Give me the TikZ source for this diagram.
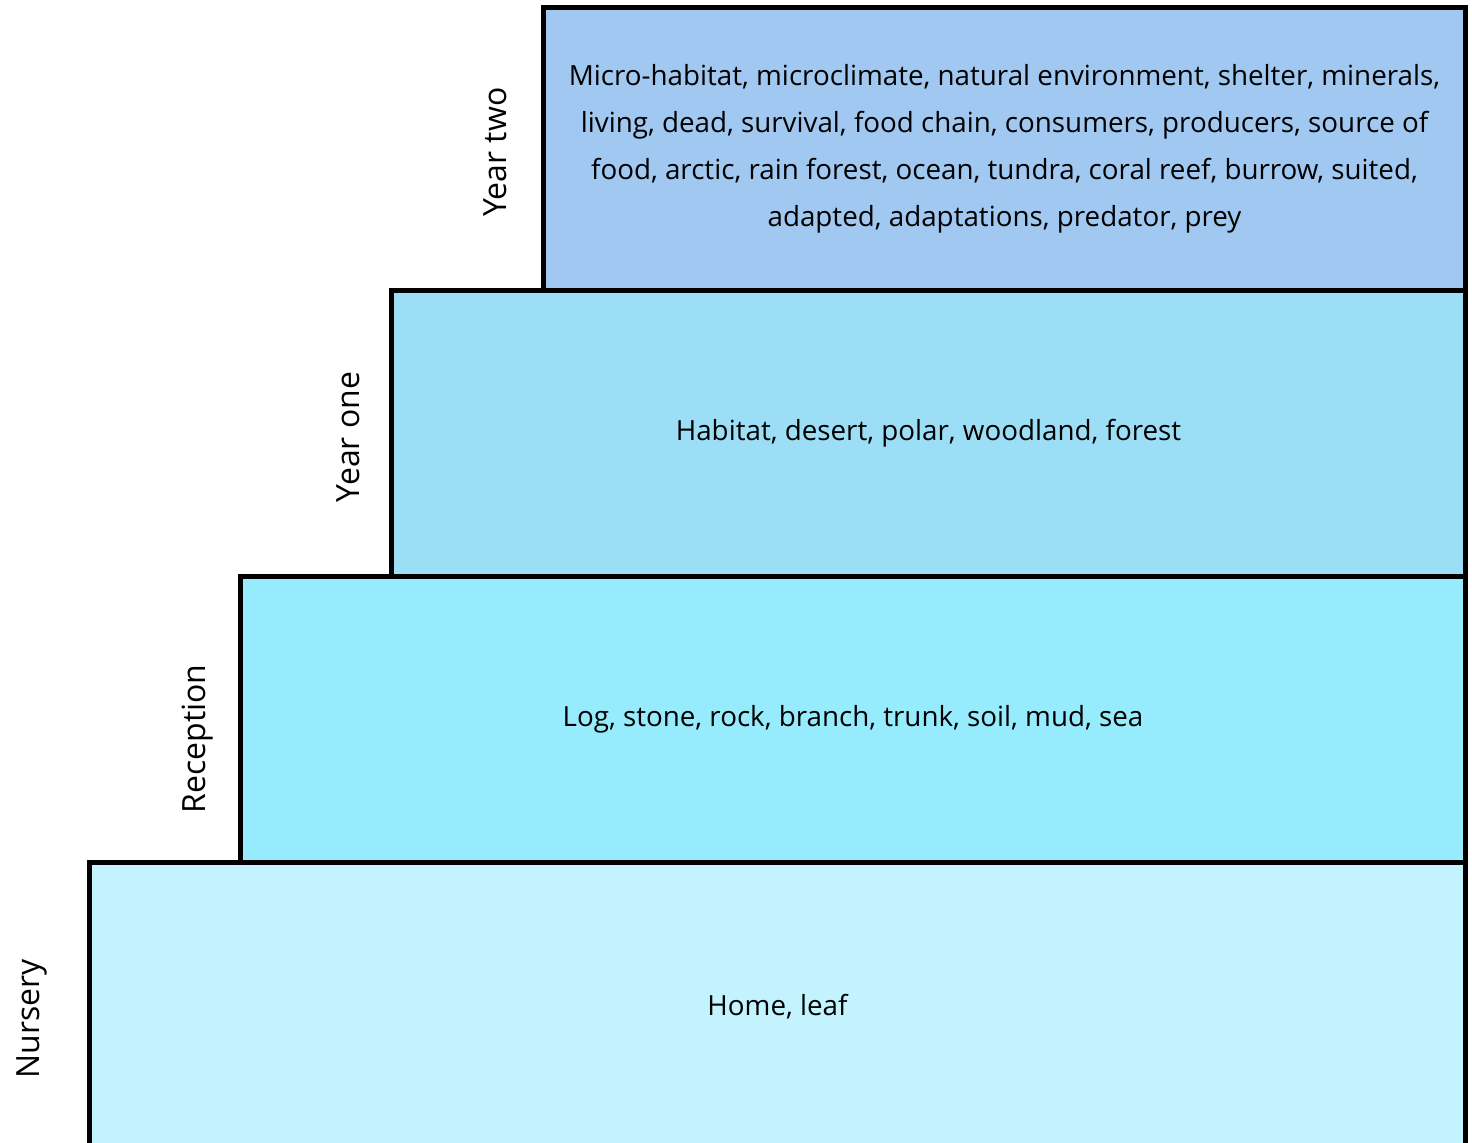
\documentclass[tikz,border=0pt]{standalone}
\usepackage{fontspec}
\setmainfont{Open Sans}
\usepackage{tikz}
\definecolor{ytwoblue}{HTML}{A0C8F0}
\definecolor{yoneblue}{HTML}{9BDEF5}
\definecolor{recblue}{HTML}{96ECFC}
\definecolor{nurblue}{HTML}{C2F3FE}
\tikzset{
	stage/.style 2 args={rectangle,draw=black,line width=0.1cm,fill=#1,minimum width=#2,minimum height=5.72cm,inner sep=0pt,align=center,font=\fontsize{15.8}{26.7}\selectfont},
	yearlabel/.style={rotate=90,anchor=center,font=\fontsize{18.2}{20}\selectfont}
}
\begin{document}
\begin{tikzpicture}[x=0.02cm,y=-0.02cm]
						\useasboundingbox (0,0) rectangle (1472,1143);
						\node [stage={nurblue}{27.52cm},minimum height=5.8cm] (nursery) at (777.5,1007) {Home, leaf};
						\node [stage={recblue}{24.5cm}] (reception) at (853,719.25) {Log, stone, rock, branch, trunk, soil, mud, sea};
						\node [stage={yoneblue}{21.48cm}] (yearone) at (928.5,433.25) {Habitat, desert, polar, woodland, forest};
						\node [stage={ytwoblue}{18.44cm},minimum height=5.66cm] (yeartwo) at (1004.5,149) {Micro-habitat, microclimate, natural environment, shelter, minerals,\\living, dead, survival, food chain, consumers, producers, source of\\food, arctic, rain forest, ocean, tundra, coral reef, burrow, suited,\\adapted, adaptations, predator, prey};

						\node [yearlabel] (nurserylabel) at (32,1019) {Nursery};
						\node [yearlabel] (receptionlabel) at (198,739) {Reception};
						\node [yearlabel] (yearonelabel) at (348,437) {Year one};
						\node [yearlabel] (yeartwolabel) at (495,152) {Year two};
					\end{tikzpicture}
\end{document}
